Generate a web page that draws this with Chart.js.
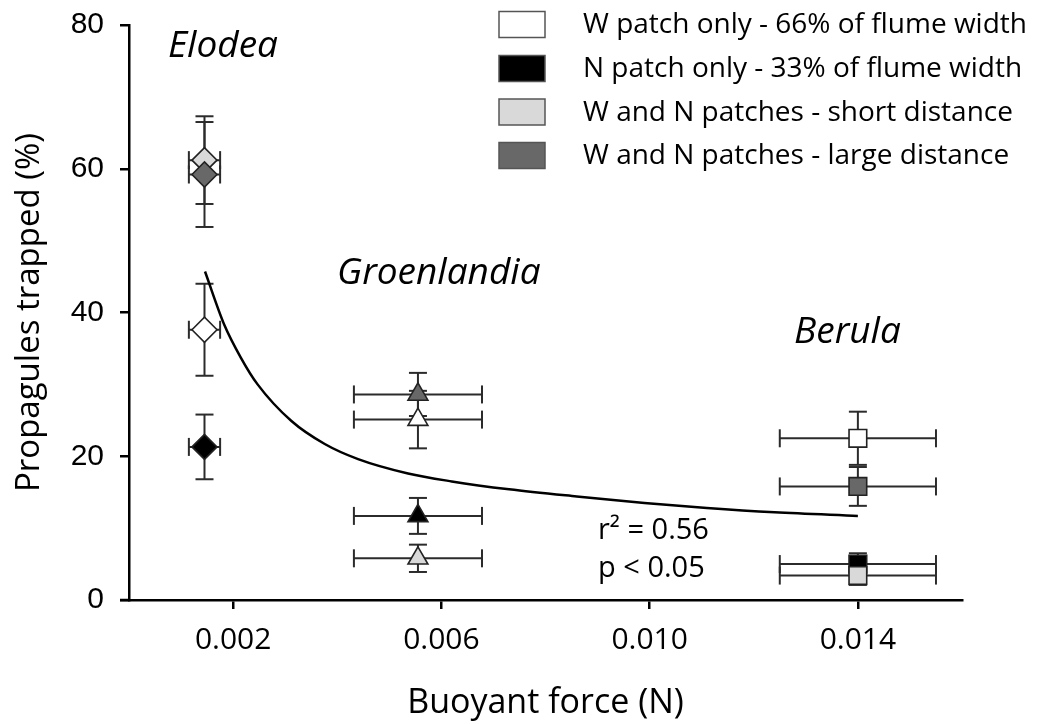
<!DOCTYPE html>
<html>
<head>
<meta charset="utf-8">
<script src="https://cdn.jsdelivr.net/npm/chart.js@4.4.0/dist/chart.umd.min.js"></script>
<style>
  html,body{margin:0;padding:0;background:#fff}
  #wrap{width:1048px;height:724px}
</style>
</head>
<body>
<div id="wrap"><canvas id="c" width="1048" height="724"></canvas></div>
<script>
// species (x groups), buoyant force and its error
const species = ['Elodea', 'Groenlandia', 'Berula'];
const force = [0.00145, 0.00555, 0.0140];
const forceErr = [0.0003, 0.00123, 0.0015];

// treatments
const treatments = [
  'W patch only - 66% of flume width',
  'N patch only - 33% of flume width',
  'W and N patches - short distance',
  'W and N patches - large distance'
];
const wOnly = [37.6, 25.1, 22.5],      wOnlyErr = [6.4, 4.0, 3.7];
const nOnly = [21.3, 11.7, 5.0],       nOnlyErr = [4.5, 2.5, 1.5];
const shortDist = [61.2, 5.8, 3.4],    shortDistErr = [6.1, 1.9, 1.3];
const largeDist = [59.2, 28.6, 15.8],  largeDistErr = [7.3, 3.0, 2.7];

// fitted curve
const fitX = [0.00146, 0.00183, 0.00215, 0.00247, 0.00312, 0.00376, 0.0044, 0.00536, 0.0062, 0.0073, 0.0086, 0.0099, 0.0111, 0.0124, 0.0140];
const fitY = [45.7, 38.3, 33.7, 30.0, 24.9, 21.7, 19.6, 17.6, 16.5, 15.4, 14.4, 13.5, 12.8, 12.2, 11.7];

const xTicks = [0.002, 0.006, 0.010, 0.014];
const yTicks = [0, 20, 40, 60, 80];

const fills = ['#ffffff', '#000000', '#d9d9d9', '#686868'];
const shapes = ['rectRot', 'triangle', 'rect'];
const sizes = [12.5, 11.5, 12.5];
const series = [[wOnly, wOnlyErr], [nOnly, nOnlyErr], [shortDist, shortDistErr], [largeDist, largeDistErr]];

const datasets = series.map(([vals, errs], k) => ({
  label: treatments[k],
  data: vals.map((v, i) => ({x: force[i], y: v})),
  yErr: errs, xErr: forceErr,
  backgroundColor: fills[k], borderColor: '#222', borderWidth: 1.6,
  pointStyle: shapes, pointRadius: sizes, pointHoverRadius: sizes,
  order: 4 - k
}));
datasets.push({
  label: 'fit', type: 'line',
  data: fitX.map((x, i) => ({x, y: fitY[i]})),
  borderColor: '#000', borderWidth: 2.5, pointRadius: 0,
  cubicInterpolationMode: 'monotone', fill: false, order: 10
});

const errorBars = {
  id: 'errorBars',
  beforeDatasetsDraw(chart) {
    const {ctx, scales: {x, y}} = chart;
    const cap = 9;
    ctx.save();
    ctx.strokeStyle = '#2b2b2b'; ctx.lineWidth = 2;
    const seg = (a, b, c, d) => { ctx.beginPath(); ctx.moveTo(a, b); ctx.lineTo(c, d); ctx.stroke(); };
    chart.data.datasets.forEach(ds => {
      if (!ds.yErr) return;
      ds.data.forEach((p, i) => {
        const px = x.getPixelForValue(p.x), py = y.getPixelForValue(p.y);
        const yt = y.getPixelForValue(p.y + ds.yErr[i]), yb = y.getPixelForValue(p.y - ds.yErr[i]);
        const xl = x.getPixelForValue(p.x - ds.xErr[i]), xr = x.getPixelForValue(p.x + ds.xErr[i]);
        seg(px, yt, px, yb); seg(px - cap, yt, px + cap, yt); seg(px - cap, yb, px + cap, yb);
        seg(xl, py, xr, py); seg(xl, py - cap, xl, py + cap); seg(xr, py - cap, xr, py + cap);
      });
    });
    ctx.restore();
  }
};

const decorations = {
  id: 'decorations',
  afterDraw(chart) {
    const {ctx, chartArea: ca} = chart;
    ctx.save();
    // x axis line runs a bit past the y axis
    ctx.strokeStyle = '#000'; ctx.lineWidth = 2.5;
    ctx.beginPath(); ctx.moveTo(ca.left - 9, ca.bottom); ctx.lineTo(ca.left, ca.bottom); ctx.stroke();

    // species names
    ctx.fillStyle = '#000'; ctx.textAlign = 'left'; ctx.textBaseline = 'alphabetic';
    ctx.font = 'italic 37px "Open Sans"';
    ctx.fillText(species[0], 168, 57);
    ctx.fillText(species[1], 337, 284);
    ctx.fillText(species[2], 794, 343);

    // stats
    ctx.font = '29px "Open Sans"';
    ctx.fillText('r\u00b2 = 0.56', 598, 539);
    ctx.fillText('p < 0.05', 598, 577);

    // legend
    const rows = [24.5, 68.5, 112, 155.5];
    ctx.font = '28px "Open Sans"'; ctx.textBaseline = 'middle';
    treatments.forEach((t, k) => {
      ctx.fillStyle = fills[k];
      ctx.fillRect(499, rows[k] - 13, 46, 26);
      ctx.strokeStyle = '#555'; ctx.lineWidth = 1.5;
      ctx.strokeRect(499, rows[k] - 13, 46, 26);
      ctx.fillStyle = '#000';
      ctx.fillText(t, 583, rows[k] + 1);
    });
    ctx.restore();
  }
};

new Chart(document.getElementById('c'), {
  type: 'scatter',
  data: {datasets},
  options: {
    responsive: false, animation: false, devicePixelRatio: 1,
    layout: {padding: {left: 0, right: 86, top: 25, bottom: 0}},
    plugins: {legend: {display: false}, tooltip: {enabled: false}},
    scales: {
      x: {
        type: 'linear', min: 0, max: 0.016,
        afterBuildTicks: s => { s.ticks = xTicks.map(v => ({value: v})); },
        afterFit: s => { s.height = 124; s.paddingLeft = 0; s.paddingRight = 0; },
        grid: {drawOnChartArea: false, drawTicks: true, tickLength: 9, color: '#000', lineWidth: 2.5},
        border: {display: true, color: '#000', width: 2.5},
        ticks: {color: '#000', padding: 13, font: {family: '"Open Sans"', size: 30}, callback: v => v.toFixed(3), maxRotation: 0},
        title: {display: true, text: 'Buoyant force (N)', color: '#000', font: {family: '"Open Sans"', size: 34}, padding: {top: 0, bottom: 0}}
      },
      y: {
        type: 'linear', min: 0, max: 80,
        afterBuildTicks: s => { s.ticks = yTicks.map(v => ({value: v})); },
        afterFit: s => { s.width = 129; s.paddingTop = 0; s.paddingBottom = 0; },
        grid: {drawOnChartArea: false, drawTicks: true, tickLength: 9, color: '#000', lineWidth: 2.5},
        border: {display: true, color: '#000', width: 2.5},
        ticks: {color: '#000', padding: 16, font: {family: '"Liberation Sans"', size: 30}},
        title: {display: true, text: 'Propagules trapped (%)', color: '#000', font: {family: '"Open Sans"', size: 33}, padding: {top: 10, bottom: 0}}
      }
    }
  },
  plugins: [errorBars, decorations]
});
</script>
</body>
</html>
